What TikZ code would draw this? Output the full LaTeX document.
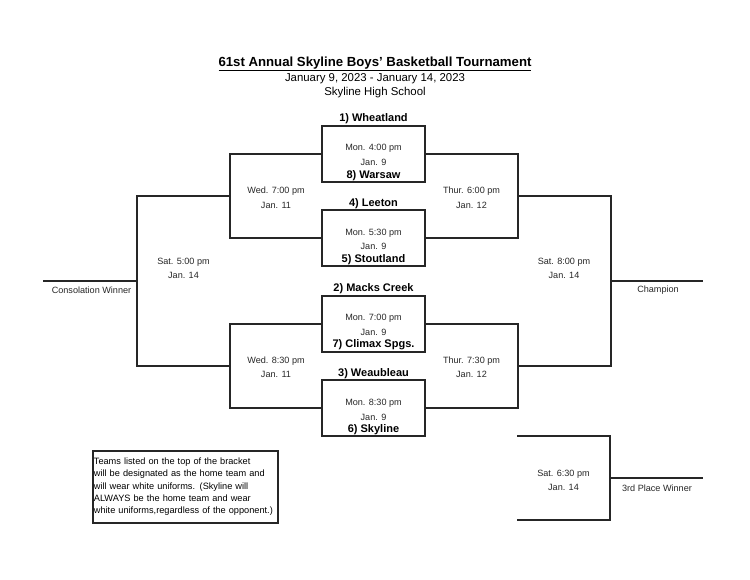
\documentclass[tikz,border=0pt]{standalone}
\usepackage{fontspec}
\setmainfont{Liberation Sans}
\begin{document}
\begin{tikzpicture}[x=1pt,y=-1pt,
  line/.style={line width=1.8pt, draw=black!85},
  gamebox/.style={draw=black!85, line width=1.8pt, minimum width=103pt, minimum height=56pt, inner sep=0pt},
  team/.style={font=\fontsize{11}{12}\selectfont\bfseries, inner sep=0pt},
  info/.style={font=\fontsize{9.1}{11}\selectfont, inner sep=0pt, align=center, text=black!85},
  lbl/.style={font=\fontsize{9.1}{11}\selectfont, inner sep=0pt, text=black!85}]
\useasboundingbox (0,0) rectangle (750,579);
% title
\node[font=\fontsize{13.2}{15}\selectfont\bfseries, inner sep=0pt] (title) at (375,64) {\underline{61st Annual Skyline Boys' Basketball Tournament}};
\node[font=\fontsize{11.4}{13}\selectfont, inner sep=0pt] (dates) at (375,79) {January 9, 2023 - January 14, 2023};
\node[font=\fontsize{11.4}{13}\selectfont, inner sep=0pt] (school) at (375,92.5) {Skyline High School};
% first round boxes
\node[gamebox] (b1) at (373.5,154) {};
\node[gamebox] (b2) at (373.5,238) {};
\node[gamebox] (b3) at (373.5,324) {};
\node[gamebox] (b4) at (373.5,408) {};
% box contents
\node[team] (t1) at (373.5,118.3) {1) Wheatland};
\node[info] (g1) at (373.5,155) {Mon. 4:00 pm\\[3.5pt]Jan. 9};
\node[team] (t8) at (373.5,175.3) {8) Warsaw};
\node[team] (t4) at (373.5,204.0) {4) Leeton};
\node[info] (g2) at (373.5,239.4) {Mon. 5:30 pm\\[3.5pt]Jan. 9};
\node[team] (t5) at (373.5,259.8) {5) Stoutland};
\node[team] (t2) at (373.5,288.3) {2) Macks Creek};
\node[info] (g3) at (373.5,324.8) {Mon. 7:00 pm\\[3.5pt]Jan. 9};
\node[team] (t7) at (373.5,345.0) {7) Climax Spgs.};
\node[team] (t3) at (373.5,374.0) {3) Weaubleau};
\node[info] (g4) at (373.5,409.8) {Mon. 8:30 pm\\[3.5pt]Jan. 9};
\node[team] (t6) at (373.5,429.3) {6) Skyline};
% junction coordinates
\coordinate (qL1) at (230,196);
\coordinate (qL2) at (230,366);
\coordinate (qR1) at (518,196);
\coordinate (qR2) at (518,366);
\coordinate (sL) at (137,281);
\coordinate (sR) at (611,281);
\coordinate (cons) at (43,281);
\coordinate (champ) at (703,281);
\coordinate (tp1) at (517,436);
\coordinate (tp2) at (517,520);
\coordinate (tpJ) at (610,478);
\coordinate (tpW) at (703,478);
% bracket lines
\draw[line] (b1.west) -| (qL1) |- (b2.west);
\draw[line] (b3.west) -| (qL2) |- (b4.west);
\draw[line] (b1.east) -| (qR1) |- (b2.east);
\draw[line] (b3.east) -| (qR2) |- (b4.east);
\draw[line] (qL1) -| (sL) |- (qL2);
\draw[line] (qR1) -| (sR) |- (qR2);
\draw[line] (sL) -- (cons);
\draw[line] (sR) -- (champ);
\draw[line] (tp1) -| (tpJ) |- (tp2);
\draw[line] (tpJ) -- (tpW);
% game labels
\node[info] (wed1) at (276,197.5) {Wed. 7:00 pm\\[3.5pt]Jan. 11};
\node[info] (wed2) at (276,367.3) {Wed. 8:30 pm\\[3.5pt]Jan. 11};
\node[info] (thu1) at (471.5,197.5) {Thur. 6:00 pm\\[3.5pt]Jan. 12};
\node[info] (thu2) at (471.5,367.3) {Thur. 7:30 pm\\[3.5pt]Jan. 12};
\node[info] (satL) at (183.5,268.3) {Sat. 5:00 pm\\[3.5pt]Jan. 14};
\node[info] (satR) at (564,268.3) {Sat. 8:00 pm\\[3.5pt]Jan. 14};
\node[info] (sat3) at (563.5,480.5) {Sat. 6:30 pm\\[3.5pt]Jan. 14};
\node[lbl] (consl) at (91.5,290) {Consolation Winner};
\node[lbl] (champl) at (658,290) {Champion};
\node[lbl] (thirdl) at (657,487.8) {3rd Place Winner};
% note box
\node[draw=black!85, line width=1.8pt, anchor=north west, minimum width=185pt, minimum height=72pt, text width=183pt, inner xsep=1pt, inner ysep=2pt, align=left, font=\fontsize{9.2}{12.3}\selectfont] (note) at (92,450) {Teams listed on the top of the bracket\\will be designated as the home team and\\will wear white uniforms. (Skyline will\\ALWAYS be the home team and wear\\white uniforms,regardless of the opponent.)};
\end{tikzpicture}
\end{document}
